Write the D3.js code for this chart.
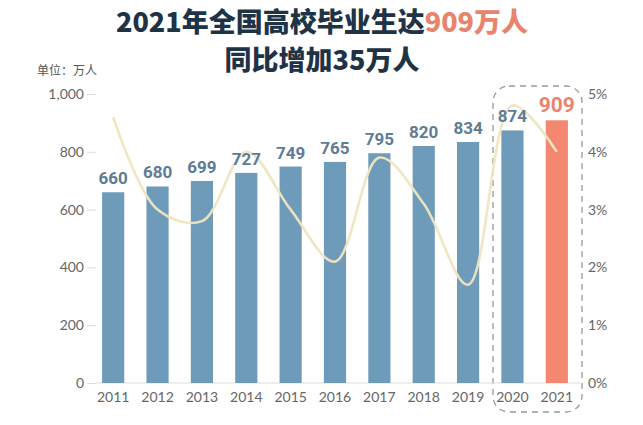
<!DOCTYPE html>
<html><head><meta charset="utf-8">
<script src="https://cdn.jsdelivr.net/npm/d3@7"></script>
<style>body{margin:0;background:#fff;}svg{display:block;}</style>
</head><body>
<script>
const years = ["2011","2012","2013","2014","2015","2016","2017","2018","2019","2020","2021"];
const graduates = [660,680,699,727,749,765,795,820,834,874,909];
const growthRate = [4.6,3.0,2.8,4.0,3.0,2.1,3.9,3.1,1.7,4.8,4.0];
const leftTicks = [0,200,400,600,800,1000];
const rightTicks = [0,1,2,3,4,5];

const W=643,H=425;
const svg=d3.select("body").append("svg").attr("width",W).attr("height",H);
const font="'Noto Sans CJK SC','Noto Sans',sans-serif";
const numFont="Lato,'Open Sans',sans-serif";

const x=d3.scaleBand().domain(years).range([91,579]).paddingInner(0.5).paddingOuter(0.25);
const y=d3.scaleLinear().domain([0,1000]).range([383,94]);
const y2=d3.scaleLinear().domain([0,5]).range([383,94]);

// title
const t1=svg.append("text").attr("x",322).attr("y",32).attr("text-anchor","middle")
  .attr("font-family",font).attr("font-weight",900).attr("font-size",27).attr("fill","#1f3346");
t1.append("tspan").text("2021年全国高校毕业生达");
t1.append("tspan").attr("fill","#e8836d").text("909万人");
svg.append("text").attr("x",322).attr("y",70).attr("text-anchor","middle")
  .attr("font-family",font).attr("font-weight",900).attr("font-size",27).attr("fill","#1f3346").text("同比增加35万人");
svg.append("text").attr("x",37).attr("y",75).attr("font-family",font).attr("font-size",12).attr("fill","#555").text("单位：万人");

// dashed highlight box
svg.append("rect").attr("x",493).attr("y",86).attr("width",89).attr("height",326).attr("rx",16)
  .attr("fill","none").attr("stroke","#999").attr("stroke-width",1.3).attr("stroke-dasharray","6,5");

// left axis
const la=svg.append("g").attr("transform","translate(96,0)")
  .call(d3.axisLeft(y).tickValues(leftTicks).tickFormat(d3.format(",")).tickSize(9).tickPadding(3));
la.select(".domain").remove();
la.selectAll("line").attr("stroke","#ddd");
la.selectAll("text").attr("font-family",numFont).attr("font-size",14).attr("fill","#666");

// right axis labels
const ra=svg.append("g").attr("transform","translate(584,0)")
  .call(d3.axisRight(y2).tickValues(rightTicks).tickFormat(d=>d+"%").tickSize(0).tickPadding(4));
ra.select(".domain").remove();
ra.selectAll("text").attr("font-family",numFont).attr("font-size",14).attr("fill","#666");

// baseline
svg.append("line").attr("x1",96).attr("x2",580).attr("y1",y(0)).attr("y2",y(0)).attr("stroke","#ddd");

// bars
svg.selectAll(".bar").data(years).enter().append("rect")
  .attr("x",d=>x(d)).attr("width",x.bandwidth())
  .attr("y",(d,i)=>y(graduates[i])).attr("height",(d,i)=>y(0)-y(graduates[i]))
  .attr("fill",(d,i)=>i===years.length-1?"#f3876f":"#6e9bb9");

// growth line
const line=d3.line().x((d,i)=>x(years[i])+x.bandwidth()/2).y(d=>y2(d)).curve(d3.curveCatmullRom.alpha(0.5));
svg.append("path").datum(growthRate).attr("d",line).attr("fill","none")
  .attr("stroke","#efe5bf").attr("stroke-width",2.6).attr("opacity",0.95);

// bar labels
svg.selectAll(".lbl").data(years).enter().append("text")
  .attr("x",d=>x(d)+x.bandwidth()/2)
  .attr("y",(d,i)=>y(graduates[i])-8)
  .attr("text-anchor","middle").attr("font-family","Roboto,'Noto Sans',sans-serif").attr("font-weight",700)
  .attr("font-size",(d,i)=>i===years.length-1?21:17)
  .attr("fill",(d,i)=>i===years.length-1?"#e8836d":"#5d7c96")
  .text((d,i)=>graduates[i]);

// x labels
svg.selectAll(".xl").data(years).enter().append("text")
  .attr("x",d=>x(d)+x.bandwidth()/2).attr("y",402).attr("text-anchor","middle")
  .attr("font-family",numFont).attr("font-size",14).attr("fill","#666").text(d=>d);
</script>
</body></html>
